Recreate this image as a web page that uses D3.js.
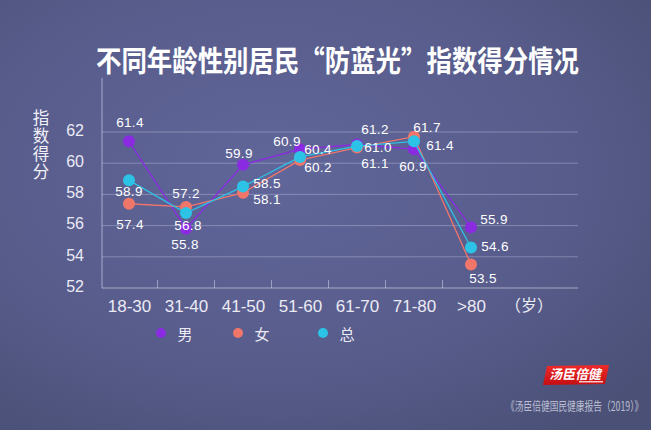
<!DOCTYPE html>
<html><head><meta charset="utf-8">
<script src="https://cdn.jsdelivr.net/npm/d3@7/dist/d3.min.js"></script>
<style>
html,body{margin:0;padding:0;background:#565b88;}
svg{display:block;}
text{font-family:"Liberation Sans",Arial,"Noto Sans CJK SC",sans-serif;}
</style></head>
<body>
<svg id="chart" width="651" height="430"></svg>
<script>
// ---- data ----
const categories = ["18-30","31-40","41-50","51-60","61-70","71-80",">80"];
const male   = [61.4,55.8,59.9,60.9,61.2,60.9,55.9];
const female = [57.4,57.2,58.1,60.2,61.0,61.7,53.5];
const total  = [58.9,56.8,58.5,60.4,61.1,61.4,54.6];
const yTicks = [52,54,56,58,60,62];
const seriesNames = ["男","女","总"];

// ---- layout / style (not data) ----
const colors = ["#8a2be2","#f0766a","#2cc3e6"];
const labelOffsets = [
  [[1,-19],[-1,16],[-4,-11],[-13,-8],[18,-15],[-1,17],[23,-8]],
  [[1,21],[0,-13],[24,7],[18,7],[21,0],[13,-9],[12,14]],
  [[0,11],[2,12],[24,-3],[18,-7],[18,17],[26,4],[24,-1]]
];

const svg = d3.select("#chart");
const W = 651, H = 430;

// background
const defs = svg.append("defs");
const rg = defs.append("radialGradient").attr("id","bg")
  .attr("cx","42%").attr("cy","40%").attr("r","75%");
rg.append("stop").attr("offset","0%").attr("stop-color","#61669a");
rg.append("stop").attr("offset","60%").attr("stop-color","#575c8b");
rg.append("stop").attr("offset","100%").attr("stop-color","#4b5077");
svg.append("rect").attr("width",W).attr("height",H).attr("fill","url(#bg)");

const lg = defs.append("linearGradient").attr("id","logo").attr("x1","0").attr("y1","0").attr("x2","0").attr("y2","1");
lg.append("stop").attr("offset","0%").attr("stop-color","#f02a2a");
lg.append("stop").attr("offset","100%").attr("stop-color","#c40f12");

// title
svg.append("text").attr("x",96).attr("y",59)
  .attr("dominant-baseline","central")
  .attr("textLength",483).attr("lengthAdjust","spacingAndGlyphs")
  .style("font-family","'Noto Sans CJK SC',sans-serif").style("font-weight","700")
  .style("font-size","29px").attr("fill","#ffffff")
  .text("不同年龄性别居民“防蓝光”指数得分情况");

// scales
const x = d3.scalePoint().domain(categories).range([129,471]);
const y = d3.scaleLinear().domain([52,62]).range([288,132]);
const xLeft = 102, xRight = 578, yBottom = 288, yTop = 78;

// gridlines
svg.append("g").selectAll("line").data(yTicks.filter(t=>t>52)).join("line")
  .attr("x1",xLeft).attr("x2",xRight)
  .attr("y1",d=>y(d)).attr("y2",d=>y(d))
  .attr("stroke","rgba(215,218,240,0.35)").attr("stroke-width",1);

// axes lines
svg.append("line").attr("x1",xLeft).attr("x2",xLeft).attr("y1",yTop).attr("y2",yBottom)
  .attr("stroke","rgba(220,222,240,0.6)").attr("stroke-width",1);
svg.append("line").attr("x1",xLeft).attr("x2",xRight).attr("y1",yBottom).attr("y2",yBottom)
  .attr("stroke","rgba(220,222,240,0.6)").attr("stroke-width",1);

// boundary ticks between categories
const bounds = d3.pairs(categories).map(([a,b]) => (x(a)+x(b))/2);
svg.append("g").selectAll("line").data(bounds).join("line")
  .attr("x1",d=>d).attr("x2",d=>d).attr("y1",yBottom-8).attr("y2",yBottom)
  .attr("stroke","rgba(220,222,240,0.5)").attr("stroke-width",1);

// y axis labels
const yAxis = svg.append("g").attr("transform",`translate(${xLeft},0)`)
  .call(d3.axisLeft(y).tickValues(yTicks).tickSize(0).tickPadding(18).tickFormat(d3.format("d")));
yAxis.select(".domain").remove();
yAxis.selectAll("text").style("font-size","16px").attr("fill","#eceaf5").attr("dy","0.2em")
  .style("font-family","'Liberation Sans',Arial,sans-serif");

// x axis labels
const xAxis = svg.append("g").attr("transform",`translate(0,${yBottom})`)
  .call(d3.axisBottom(x).tickSize(0).tickPadding(12));
xAxis.select(".domain").remove();
xAxis.selectAll("text").style("font-size","17px").attr("fill","#eceaf5")
  .style("font-family","'Liberation Sans',Arial,sans-serif");

svg.append("text").attr("x",529).attr("y",304).attr("text-anchor","middle")
  .attr("dominant-baseline","central").style("font-size","16px")
  .style("font-family","'Noto Sans CJK SC',sans-serif").attr("fill","#eceaf5").text("（岁）");

// y title vertical (single text, vertical writing mode)
svg.append("text").attr("x",41).attr("y",109)
  .style("writing-mode","vertical-rl").style("glyph-orientation-vertical","0")
  .style("letter-spacing","1.5px")
  .style("font-family","'Noto Sans CJK SC',sans-serif").style("font-size","16.5px")
  .attr("fill","#f2f0f8").text("指数得分");

// series
const series = [male,female,total];
const line = d3.line().x((d,i)=>x(categories[i])).y(d=>y(d));
series.forEach((vals,si)=>{
  const g = svg.append("g");
  g.append("path").datum(vals).attr("d",line).attr("fill","none")
    .attr("stroke",colors[si]).attr("stroke-width",1.3);
  g.selectAll("circle").data(vals).join("circle")
    .attr("cx",(d,i)=>x(categories[i])).attr("cy",d=>y(d)).attr("r",6)
    .attr("fill",colors[si]);
});
// labels on top
series.forEach((vals,si)=>{
  svg.append("g").selectAll("text").data(vals).join("text")
    .attr("x",(d,i)=>x(categories[i])+labelOffsets[si][i][0])
    .attr("y",(d,i)=>y(d)+labelOffsets[si][i][1])
    .attr("text-anchor","middle").attr("dominant-baseline","central")
    .style("font-size","13.5px").style("letter-spacing","0.3px").attr("fill","#ffffff")
    .text(d=>d.toFixed(1));
});

// legend
const legendX = [161,238,323];
const lgG = svg.append("g");
seriesNames.forEach((n,i)=>{
  lgG.append("circle").attr("cx",legendX[i]).attr("cy",333).attr("r",5).attr("fill",colors[i]);
  lgG.append("text").attr("x",legendX[i]+24).attr("y",333).attr("text-anchor","middle")
    .attr("dominant-baseline","central").style("font-family","'Noto Sans CJK SC',sans-serif")
    .style("font-size","15px").attr("fill","#eceaf5").text(n);
});

// logo
const logo = svg.append("g").attr("transform","translate(543,366)");
logo.append("path").attr("d","M4,0 L66,-1 L62,18 L0,19 Z").attr("fill","url(#logo)");
logo.append("text").attr("x",33).attr("y",8).attr("text-anchor","middle")
  .attr("dominant-baseline","central").attr("transform","skewX(-12) translate(2,0)")
  .style("font-family","'Noto Sans CJK SC',sans-serif").style("font-weight","700")
  .style("font-size","13px").attr("fill","#ffffff").text("汤臣倍健");
logo.append("rect").attr("x",36).attr("y",15).attr("width",24).attr("height",1.5).attr("fill","#f7c9c9");

// source (horizontally condensed)
svg.append("text").attr("transform","translate(506,405) scale(0.7,1)")
  .attr("dominant-baseline","central")
  .style("font-family","'Noto Sans CJK SC',sans-serif").style("font-size","12.5px")
  .attr("fill","#b9bdd0").text("《汤臣倍健国民健康报告（2019）》");
</script>
</body></html>
